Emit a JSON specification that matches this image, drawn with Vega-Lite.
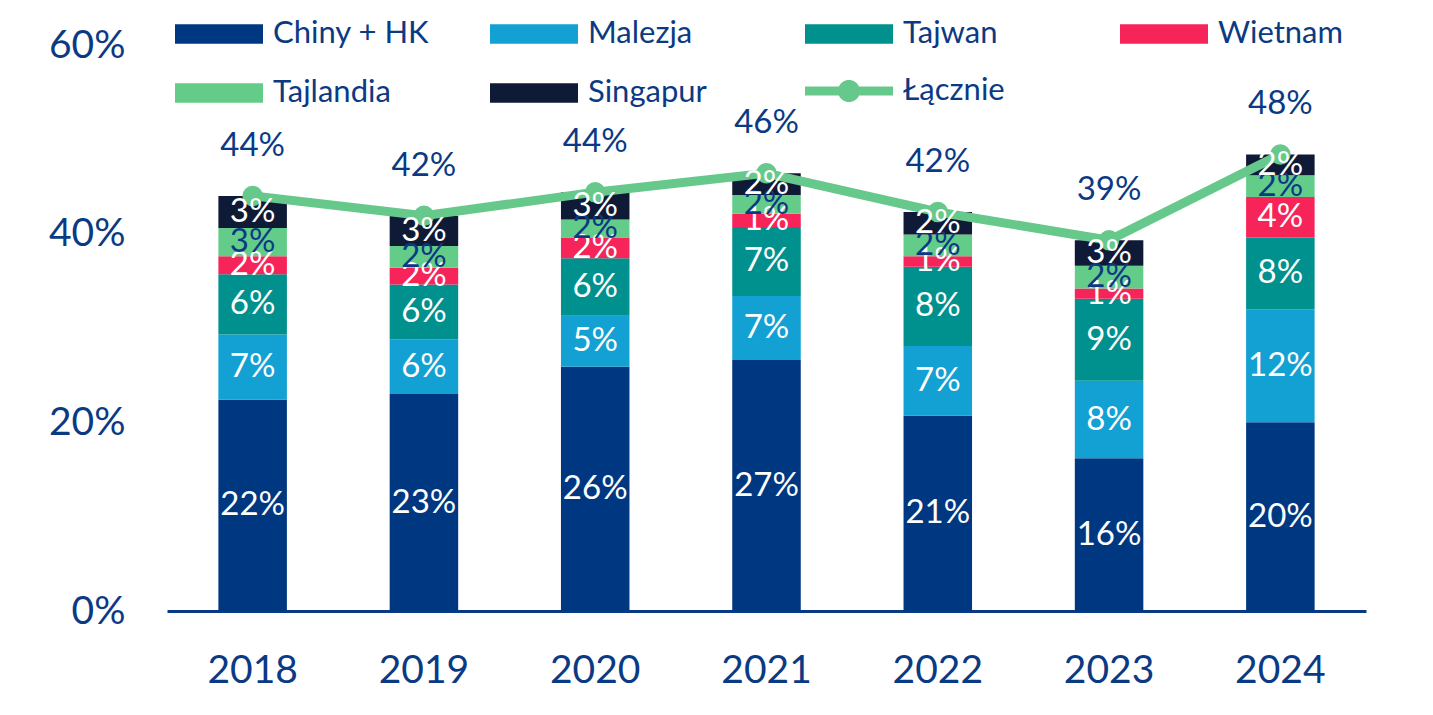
{
  "$schema": "https://vega.github.io/schema/vega-lite/v6.json",
  "width": 1199,
  "height": 566,
  "autosize": {"type": "none"},
  "padding": {"left": 167, "top": 45, "right": 67, "bottom": 104},
  "background": "#ffffff",
  "config": {
    "font": "Lato",
    "view": {"stroke": null},
    "text": {"font": "Lato"}
  },
  "datasets": {
    "udzialy": [
      {"rok": "2018", "kraj": "Chiny + HK", "udzial": 0.224},
      {"rok": "2018", "kraj": "Malezja", "udzial": 0.069},
      {"rok": "2018", "kraj": "Tajwan", "udzial": 0.064},
      {"rok": "2018", "kraj": "Wietnam", "udzial": 0.019},
      {"rok": "2018", "kraj": "Tajlandia", "udzial": 0.030},
      {"rok": "2018", "kraj": "Singapur", "udzial": 0.034},
      {"rok": "2019", "kraj": "Chiny + HK", "udzial": 0.230},
      {"rok": "2019", "kraj": "Malezja", "udzial": 0.058},
      {"rok": "2019", "kraj": "Tajwan", "udzial": 0.058},
      {"rok": "2019", "kraj": "Wietnam", "udzial": 0.018},
      {"rok": "2019", "kraj": "Tajlandia", "udzial": 0.023},
      {"rok": "2019", "kraj": "Singapur", "udzial": 0.032},
      {"rok": "2020", "kraj": "Chiny + HK", "udzial": 0.259},
      {"rok": "2020", "kraj": "Malezja", "udzial": 0.054},
      {"rok": "2020", "kraj": "Tajwan", "udzial": 0.061},
      {"rok": "2020", "kraj": "Wietnam", "udzial": 0.022},
      {"rok": "2020", "kraj": "Tajlandia", "udzial": 0.019},
      {"rok": "2020", "kraj": "Singapur", "udzial": 0.029},
      {"rok": "2021", "kraj": "Chiny + HK", "udzial": 0.266},
      {"rok": "2021", "kraj": "Malezja", "udzial": 0.068},
      {"rok": "2021", "kraj": "Tajwan", "udzial": 0.073},
      {"rok": "2021", "kraj": "Wietnam", "udzial": 0.014},
      {"rok": "2021", "kraj": "Tajlandia", "udzial": 0.020},
      {"rok": "2021", "kraj": "Singapur", "udzial": 0.023},
      {"rok": "2022", "kraj": "Chiny + HK", "udzial": 0.207},
      {"rok": "2022", "kraj": "Malezja", "udzial": 0.074},
      {"rok": "2022", "kraj": "Tajwan", "udzial": 0.084},
      {"rok": "2022", "kraj": "Wietnam", "udzial": 0.011},
      {"rok": "2022", "kraj": "Tajlandia", "udzial": 0.023},
      {"rok": "2022", "kraj": "Singapur", "udzial": 0.024},
      {"rok": "2023", "kraj": "Chiny + HK", "udzial": 0.162},
      {"rok": "2023", "kraj": "Malezja", "udzial": 0.082},
      {"rok": "2023", "kraj": "Tajwan", "udzial": 0.087},
      {"rok": "2023", "kraj": "Wietnam", "udzial": 0.011},
      {"rok": "2023", "kraj": "Tajlandia", "udzial": 0.024},
      {"rok": "2023", "kraj": "Singapur", "udzial": 0.027},
      {"rok": "2024", "kraj": "Chiny + HK", "udzial": 0.200},
      {"rok": "2024", "kraj": "Malezja", "udzial": 0.120},
      {"rok": "2024", "kraj": "Tajwan", "udzial": 0.076},
      {"rok": "2024", "kraj": "Wietnam", "udzial": 0.043},
      {"rok": "2024", "kraj": "Tajlandia", "udzial": 0.023},
      {"rok": "2024", "kraj": "Singapur", "udzial": 0.022}
    ],
    "lacznie": [
      {"rok": "2018", "udzial": 0.440},
      {"rok": "2019", "udzial": 0.419},
      {"rok": "2020", "udzial": 0.444},
      {"rok": "2021", "udzial": 0.464},
      {"rok": "2022", "udzial": 0.423},
      {"rok": "2023", "udzial": 0.393},
      {"rok": "2024", "udzial": 0.484}
    ]
  },
  "layer": [
    {
      "data": {"name": "udzialy"},
      "transform": [
        {"window": [{"op": "row_number", "as": "nr"}]},
        {"stack": "udzial", "groupby": ["rok"], "sort": [{"field": "nr", "order": "ascending"}], "as": ["dol", "gora"]}
      ],
      "mark": {"type": "bar", "strokeWidth": 0},
      "encoding": {
        "x": {
          "field": "rok", "type": "ordinal", "title": null,
          "scale": {"paddingInner": 0.6, "paddingOuter": 0.3},
          "axis": {
            "labelAngle": 0, "labelFontSize": 39, "labelColor": "#0B3A84", "labelFont": "Lato",
            "labelPadding": 40, "ticks": false, "grid": false,
            "domainColor": "#0B3A84", "domainWidth": 3
          }
        },
        "y": {
          "field": "dol", "type": "quantitative", "title": null,
          "scale": {"domain": [0, 0.6], "nice": false},
          "axis": {
            "values": [0, 0.2, 0.4, 0.6], "format": ".0%",
            "labelFontSize": 39, "labelColor": "#0B3A84", "labelFont": "Lato",
            "labelPadding": 42, "domain": false, "ticks": false, "grid": false
          }
        },
        "y2": {"field": "gora"},
        "color": {
          "field": "kraj", "type": "nominal",
          "scale": {
            "domain": ["Chiny + HK", "Malezja", "Tajwan", "Wietnam", "Tajlandia", "Singapur"],
            "range": ["#003781", "#13A0D3", "#00908D", "#F62459", "#64CC89", "#0F1A36"]
          },
          "legend": {
            "orient": "none", "legendX": 8, "legendY": -55,
            "direction": "horizontal", "columns": 4, "title": null,
            "symbolType": "M-1,-0.22H1V0.22H-1Z", "symbolSize": 7744, "symbolStrokeWidth": 0,
            "labelFontSize": 31, "labelColor": "#0B3A84", "labelFont": "Lato", "labelOffset": 10,
            "columnPadding": 60, "rowPadding": -2, "gridAlign": "all", "labelLimit": 400
          }
        }
      }
    },
    {
      "data": {"name": "lacznie"},
      "encoding": {
        "x": {"field": "rok", "type": "ordinal", "title": null},
        "y": {"field": "udzial", "type": "quantitative", "title": null}
      },
      "layer": [
        {"mark": {"type": "line", "color": "#66C98B", "strokeWidth": 9}},
        {
          "mark": {"type": "circle", "size": 420, "opacity": 1},
          "encoding": {
            "fill": {
              "datum": "Łącznie", "type": "nominal",
              "scale": {"range": ["#66C98B"]},
              "legend": {
                "orient": "none", "legendX": 638, "legendY": 2, "title": null,
                "symbolType": "M-1,-0.1H-0.229A0.25,0.25 0 0 1 0.229,-0.1H1V0.1H0.229A0.25,0.25 0 0 1 -0.229,0.1H-1Z",
                "symbolSize": 7744, "symbolStrokeWidth": 0,
                "labelFontSize": 31, "labelColor": "#0B3A84", "labelFont": "Lato", "labelOffset": 10
              }
            }
          }
        },
        {
          "mark": {"type": "text", "fontSize": 33, "dy": -50, "color": "#0B3A84", "baseline": "middle"},
          "encoding": {"text": {"field": "udzial", "type": "quantitative", "format": ".0%"}}
        }
      ]
    },
    {
      "data": {"name": "udzialy"},
      "transform": [
        {"window": [{"op": "row_number", "as": "nr"}]},
        {"stack": "udzial", "groupby": ["rok"], "sort": [{"field": "nr", "order": "ascending"}], "as": ["dol", "gora"]},
        {"fold": ["dol", "gora"], "as": ["krawedz", "poziom"]}
      ],
      "mark": {"type": "text", "fontSize": 33, "baseline": "middle"},
      "encoding": {
        "x": {"field": "rok", "type": "ordinal", "title": null},
        "y": {"aggregate": "mean", "field": "poziom", "type": "quantitative", "title": null},
        "detail": {"field": "kraj", "type": "nominal"},
        "text": {"field": "udzial", "type": "quantitative", "format": ".0%"},
        "color": {
          "condition": {"test": "datum.kraj === 'Tajlandia'", "value": "#0B3A84"},
          "value": "#ffffff"
        }
      }
    }
  ]
}
